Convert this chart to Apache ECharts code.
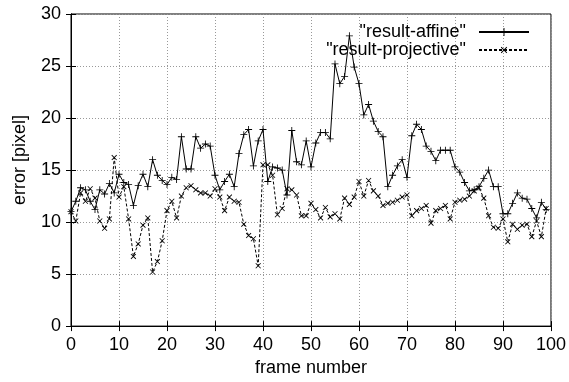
<!DOCTYPE html>
<html>
<head>
<meta charset="utf-8">
<script src="https://cdn.jsdelivr.net/npm/echarts@6.0.0/dist/echarts.min.js"></script>
<style>
html, body { margin: 0; padding: 0; background: #fff; }
#chart { width: 569px; height: 382px; }
</style>
</head>
<body>
<div id="chart"></div>
<script>
// 每帧误差 (帧 0..99)
var affine = [
    11.0, 12.0, 13.3, 13.1, 12.0, 11.2, 13.1, 12.7, 13.7, 12.8,
    14.6, 13.8, 13.6, 11.6, 13.5, 14.6, 13.4, 16.0, 14.5, 14.0,
    13.6, 14.3, 14.1, 18.2, 15.1, 15.1, 18.2, 17.1, 17.5, 17.3,
    14.5, 13.1, 13.9, 14.6, 13.4, 16.6, 18.4, 18.9, 15.4, 17.8,
    18.9, 13.9, 15.3, 15.2, 15.0, 12.6, 18.8, 15.8, 15.5, 17.8,
    15.3, 17.6, 18.6, 18.6, 18.0, 25.2, 23.3, 24.0, 27.9, 24.9,
    23.3, 20.3, 21.3, 19.7, 18.7, 18.2, 13.4, 14.5, 15.4, 16.0,
    14.3, 18.3, 19.4, 18.9, 17.3, 16.8, 15.9, 16.9, 16.9, 16.9,
    15.3, 14.8, 13.8, 13.0, 13.1, 13.4, 14.2, 15.0, 13.4, 13.4,
    10.8, 10.8, 11.8, 12.8, 12.3, 12.2, 11.3, 10.4, 11.9, 11.2
];
var projective = [
    11.0, 10.1, 12.8, 12.0, 13.2, 12.3, 10.1, 9.4, 10.3, 16.2,
    12.4, 13.4, 10.3, 6.7, 7.9, 9.7, 10.4, 5.2, 6.2, 8.2,
    11.1, 12.0, 10.4, 12.5, 13.3, 13.5, 13.1, 12.8, 12.8, 12.5,
    13.2, 12.4, 11.1, 12.4, 12.0, 11.9, 9.8, 8.7, 8.4, 5.8,
    15.5, 15.5, 14.5, 10.7, 11.3, 13.2, 13.1, 12.6, 10.6, 10.6,
    11.8, 11.2, 10.4, 11.4, 10.5, 10.8, 10.3, 12.3, 11.7, 12.4,
    13.9, 12.5, 14.0, 13.0, 12.5, 11.6, 11.8, 11.9, 12.1, 12.4,
    12.6, 10.6, 11.1, 11.3, 11.6, 9.9, 11.1, 11.3, 11.6, 10.3,
    11.9, 12.1, 12.2, 12.5, 13.0, 13.3, 12.3, 10.6, 9.5, 9.4,
    10.3, 8.1, 9.8, 9.3, 9.7, 9.8, 8.6, 10.1, 8.6, 11.3
];
var seriesNames = ['"result-affine"', '"result-projective"'];
var xTicks = { min: 0, max: 100, interval: 10 };
var yTicks = { min: 0, max: 30, interval: 5 };

var FONT = 'Liberation Sans';
// 加号标记，叉号用旋转45度
var PLUS = 'path://M0,4.4L10,4.4L10,5.6L0,5.6Z M4.4,0L5.6,0L5.6,10L4.4,10Z';

function toPoints(arr) {
    var out = [];
    for (var i = 0; i < arr.length; i++) {
        out.push([i, arr[i]]);
    }
    return out;
}

function makeAxis(t, pos, showLabel, name) {
    return {
        type: 'value',
        position: pos,
        min: t.min,
        max: t.max,
        interval: t.interval,
        name: name || '',
        axisLine: { show: true, lineStyle: { color: '#000', width: 1 } },
        axisTick: { show: true, inside: true, length: 5, lineStyle: { color: '#000' } },
        axisLabel: { show: showLabel, color: '#000', fontFamily: FONT, fontSize: 18, margin: 10 },
        splitLine: { show: showLabel, lineStyle: { color: '#999', type: [1, 2], width: 1 } }
    };
}

var myChart = echarts.init(document.getElementById('chart'), null, { renderer: 'canvas' });

var xBottom = makeAxis(xTicks, 'bottom', true, 'frame number');
xBottom.nameLocation = 'middle';
xBottom.nameGap = 32;
xBottom.nameTextStyle = { color: '#000', fontFamily: FONT, fontSize: 18 };

var yLeft = makeAxis(yTicks, 'left', true, 'error [pixel]');
yLeft.nameLocation = 'middle';
yLeft.nameGap = 42;
yLeft.nameTextStyle = { color: '#000', fontFamily: FONT, fontSize: 18, padding: [0, 0, 0, 20] };

var option = {
    animation: false,
    backgroundColor: '#fff',
    grid: { left: 71, right: 16, top: 14, bottom: 49, show: true, borderColor: '#000', borderWidth: 1 },
    legend: {
        data: seriesNames,
        orient: 'vertical',
        align: 'right',
        right: 34,
        top: 18,
        itemWidth: 50,
        itemHeight: 10,
        itemGap: 0,
        textStyle: { color: '#000', fontFamily: FONT, fontSize: 18, padding: [0, 8, 0, 0] }
    },
    xAxis: [xBottom, makeAxis(xTicks, 'top', false)],
    yAxis: [yLeft, makeAxis(yTicks, 'right', false)],
    series: [
        {
            name: seriesNames[0],
            type: 'line',
            data: toPoints(affine),
            symbol: PLUS,
            symbolSize: 7,
            showAllSymbol: true,
            itemStyle: { color: '#000' },
            lineStyle: { color: '#000', width: 1 }
        },
        {
            name: seriesNames[1],
            type: 'line',
            data: toPoints(projective),
            symbol: PLUS,
            symbolSize: 7,
            symbolRotate: 45,
            showAllSymbol: true,
            itemStyle: { color: '#000' },
            lineStyle: { color: '#000', width: 1, type: [3, 2] }
        }
    ]
};
myChart.setOption(option);
</script>
</body>
</html>
